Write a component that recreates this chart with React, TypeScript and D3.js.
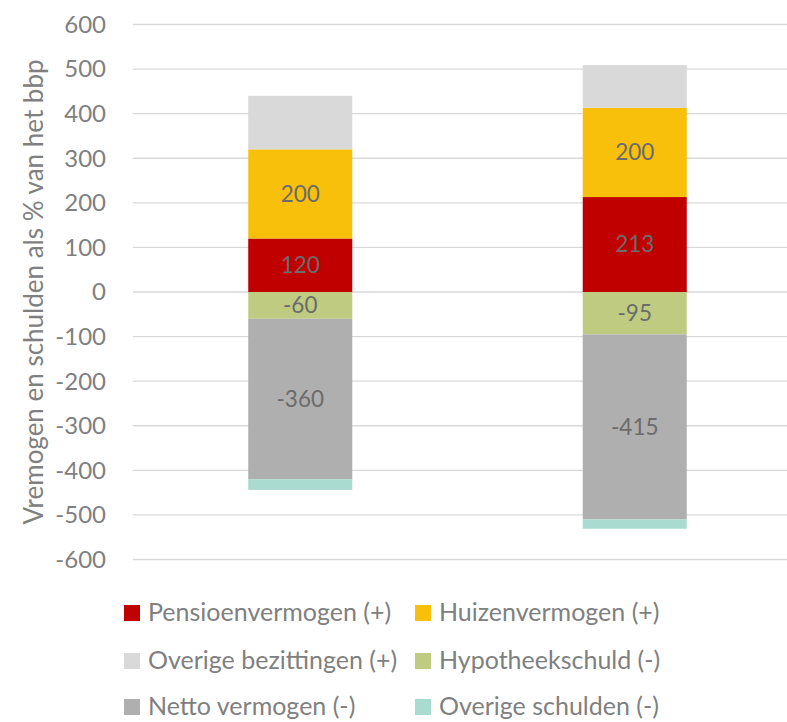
import React, { useRef, useEffect } from 'react';
import * as d3 from 'd3';

// two bars, no category labels in the original
const categories = ['a', 'b'];

const seriesNames = [
  'Pensioenvermogen (+)',
  'Huizenvermogen (+)',
  'Overige bezittingen (+)',
  'Hypotheekschuld (-)',
  'Netto vermogen (-)',
  'Overige schulden (-)',
];
const seriesColors = ['#c00000', '#f8c00a', '#d9d9d9', '#bfcb81', '#afafaf', '#a9dbd0'];
const labelled = [true, true, false, true, true, false];

const pensioen = [120, 213];
const huizen = [200, 200];
const overigeBezittingen = [120, 96];
const hypotheek = [-60, -95];
const netto = [-360, -415];
const overigeSchulden = [-24, -21];

const yTicks = d3.range(-600, 601, 100);

const FONT = 'Lato, "Open Sans", sans-serif';

const App = () => {
  const svgRef = useRef(null);

  useEffect(() => {
    document.body.style.margin = '0';
    const width = 787;
    const height = 722;

    const svg = d3.select(svgRef.current)
      .attr('width', width)
      .attr('height', height);
    svg.selectAll('*').remove();

    const values = [pensioen, huizen, overigeBezittingen, hypotheek, netto, overigeSchulden];
    const rows = categories.map((c, i) => {
      const r: any = { cat: c };
      seriesNames.forEach((s, j) => { r[s] = values[j][i]; });
      return r;
    });

    const stacked = d3.stack()
      .keys(seriesNames)
      .offset(d3.stackOffsetDiverging)(rows);

    const plotLeft = 133;
    const xScale = d3.scaleBand()
      .domain(categories)
      .range([plotLeft, plotLeft + 669])
      .paddingInner(0.689)
      .paddingOuter(0.3445);

    const yScale = d3.scaleLinear()
      .domain([-600, 600])
      .range([559.5, 24.5]);

    // grid
    svg.append('g')
      .selectAll('line')
      .data(yTicks)
      .enter().append('line')
      .attr('x1', plotLeft)
      .attr('x2', width)
      .attr('y1', d => yScale(d))
      .attr('y2', d => yScale(d))
      .attr('stroke', '#d9d9d9')
      .attr('stroke-width', 1.3);

    // y tick labels
    svg.append('g')
      .selectAll('text')
      .data(yTicks)
      .enter().append('text')
      .attr('x', 106)
      .attr('y', d => yScale(d))
      .attr('dy', '0.35em')
      .attr('text-anchor', 'end')
      .attr('font-family', FONT)
      .attr('font-size', 24)
      .attr('fill', '#808080')
      .text(d => d);

    // axis title
    svg.append('text')
      .attr('transform', `translate(34, ${yScale(0)}) rotate(-90)`)
      .attr('text-anchor', 'middle')
      .attr('dy', '0.35em')
      .attr('font-family', FONT)
      .attr('font-size', 26)
      .attr('fill', '#808080')
      .text('Vremogen en schulden als % van het bbp');

    // bars
    stacked.forEach((layer, j) => {
      const g = svg.append('g');
      g.selectAll('rect')
        .data(layer)
        .enter().append('rect')
        .attr('x', d => xScale(d.data.cat))
        .attr('width', xScale.bandwidth())
        .attr('y', d => yScale(Math.max(d[0], d[1])))
        .attr('height', d => Math.abs(yScale(d[0]) - yScale(d[1])))
        .attr('fill', seriesColors[j]);

      if (labelled[j]) {
        g.selectAll('text')
          .data(layer)
          .enter().append('text')
          .attr('x', d => xScale(d.data.cat) + xScale.bandwidth() / 2)
          .attr('y', d => yScale((d[0] + d[1]) / 2))
          .attr('dy', '0.35em')
          .attr('text-anchor', 'middle')
          .attr('font-family', FONT)
          .attr('font-size', 22.5)
          .attr('fill', '#6b6b6b')
          .text(d => d.data[seriesNames[j]]);
      }
    });

    // legend: 2 columns, 3 rows
    const legend = svg.append('g');
    const colX = [124, 415];
    const rowY = [612, 660, 706];
    seriesNames.forEach((s, i) => {
      const gx = colX[i % 2];
      const gy = rowY[Math.floor(i / 2)];
      legend.append('rect')
        .attr('x', gx)
        .attr('y', gy - 7)
        .attr('width', 16)
        .attr('height', 16)
        .attr('fill', seriesColors[i]);
      legend.append('text')
        .attr('x', gx + 24)
        .attr('y', gy)
        .attr('dy', '0.35em')
        .attr('font-family', FONT)
        .attr('font-size', 25)
        .attr('fill', '#808080')
        .text(s);
    });
  }, []);

  return <svg ref={svgRef} style={{ display: 'block' }}></svg>;
};

export default App;
